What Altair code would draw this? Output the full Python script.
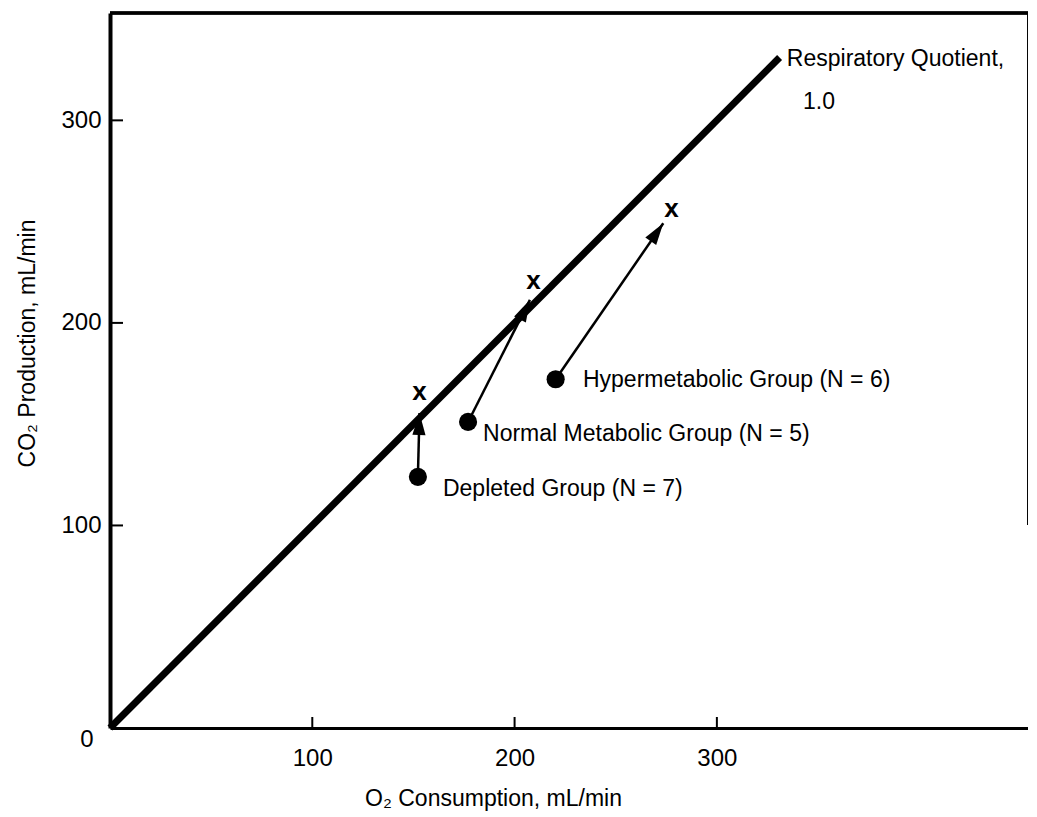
import altair as alt
import pandas as pd

# ---- data ----
groups = ["Depleted Group (N = 7)", "Normal Metabolic Group (N = 5)", "Hypermetabolic Group (N = 6)"]
start_o2 = [152.2, 177.0, 220.3]      # O2 consumption at start (filled circles)
start_co2 = [124.0, 151.1, 172.2]     # CO2 production at start
tip_o2 = [153.0, 207.6, 273.5]        # arrow tips
tip_co2 = [155.5, 211.4, 249.2]
end_o2 = [153.0, 209.3, 277.6]        # "x" markers
end_co2 = [165.3, 220.4, 255.8]
label_o2 = [164.6, 184.4, 233.8]
label_co2 = [118.0, 145.2, 171.9]
rq_o2 = [0, 331]
rq_co2 = [0, 331]
tick_values = [100, 200, 300]

W, H = 918, 715
X_MAX, Y_MAX = 453.8, 353.0
FONT = "Liberation Sans"

df = pd.DataFrame({
    "group": groups, "sx": start_o2, "sy": start_co2,
    "tx": tip_o2, "ty": tip_co2, "ex": end_o2, "ey": end_co2,
    "lx": label_o2, "ly": label_co2,
})
rq = pd.DataFrame({"o2": rq_o2, "co2": rq_co2})
ticks = pd.DataFrame({"v": tick_values})

xs = alt.Scale(domain=[0, X_MAX], nice=False, zero=True)
ys = alt.Scale(domain=[0, Y_MAX], nice=False, zero=True)

x_axis = alt.Axis(
    values=tick_values, ticks=False, grid=False, domainWidth=3, domainColor="black",
    labelFontSize=24, labelPadding=18, labelColor="black", labelFont=FONT,
    title="O₂ Consumption, mL/min", titleFont=FONT, titleFontSize=23,
    titleFontWeight="normal", titleColor="black",
    titleX=383, titleY=70, titleAlign="center", titleBaseline="middle")
y_axis = alt.Axis(
    values=tick_values, ticks=False, grid=False, domainWidth=4, domainColor="black",
    labelFontSize=24, labelPadding=9, labelColor="black", labelFont=FONT,
    title="CO₂ Production, mL/min", titleFont=FONT, titleFontSize=23,
    titleFontWeight="normal", titleColor="black", titleAngle=270,
    titleX=-83, titleY=330, titleAlign="center", titleBaseline="middle")


def X(f):
    return alt.X(f, type="quantitative", scale=xs, axis=x_axis)


def Y(f):
    return alt.Y(f, type="quantitative", scale=ys, axis=y_axis)


rq_line = alt.Chart(rq).mark_line(color="black", strokeWidth=7, strokeCap="butt").encode(
    x=X("o2"), y=Y("co2"))

arrows = alt.Chart(df).mark_rule(color="black", strokeWidth=2.5).encode(
    x=X("sx"), y=Y("sy"), x2="tx", y2="ty")

heads = alt.Chart(df).transform_calculate(
    ang="(atan2(datum.tx - datum.sx, datum.ty - datum.sy) * 180 / PI + 360) % 360"
).mark_point(shape="M0,0L0.6,2L-0.6,2Z", filled=True, color="black", size=484, opacity=1).encode(
    x=X("tx"), y=Y("ty"), angle=alt.Angle("ang:Q", scale=None))

circles = alt.Chart(df).mark_circle(color="black", size=330, opacity=1).encode(
    x=X("sx"), y=Y("sy"))

xmarks = alt.Chart(df).mark_text(text="x", font=FONT, fontSize=26, fontWeight="bold",
                                 baseline="alphabetic", dy=7, color="black").encode(
    x=X("ex"), y=Y("ey"))

labels = alt.Chart(df).mark_text(font=FONT, fontSize=23, align="left", baseline="middle",
                                 color="black").encode(
    x=X("lx"), y=Y("ly"), text="group:N")

rq_text = pd.DataFrame({"o2": [334.6, 342.6], "co2": [330.4, 309.1],
                        "t": ["Respiratory Quotient,", "1.0"]})
rq_labels = alt.Chart(rq_text).mark_text(font=FONT, fontSize=23, align="left",
                                         baseline="middle", color="black").encode(
    x=X("o2"), y=Y("co2"), text="t:N")

ytick_marks = alt.Chart(ticks).mark_rule(color="black", strokeWidth=2).encode(
    y=Y("v"), x=alt.value(0), x2=alt.value(13))
xtick_marks = alt.Chart(ticks).mark_rule(color="black", strokeWidth=2).encode(
    x=X("v"), y=alt.value(H), y2=alt.value(H - 11))

top_border = alt.Chart(ticks).mark_rule(color="black", strokeWidth=3).encode(
    x=alt.value(0), x2=alt.value(W), y=alt.value(0))
right_border = alt.Chart(ticks).mark_rule(color="black", strokeWidth=1.5).encode(
    x=alt.value(W), y=alt.value(0), y2=alt.value(512))

zero = pd.DataFrame({"o2": [0], "co2": [0], "t": ["0"]})
zero_label = alt.Chart(zero).mark_text(font=FONT, fontSize=24, align="center",
                                       baseline="middle", dx=-23, dy=12, color="black").encode(
    x=X("o2"), y=Y("co2"), text="t:N")

chart = alt.layer(
    rq_line, arrows, heads, circles, xmarks, labels, rq_labels,
    ytick_marks, xtick_marks, top_border, right_border, zero_label
).properties(
    width=W, height=H,
    autosize=alt.AutoSizeParams(type="none"),
    padding={"left": 102, "top": 5, "right": 0, "bottom": 88},
    background="white",
).configure_view(stroke=None)

chart.save("out.html", embed_options={"renderer": "svg", "actions": False})
